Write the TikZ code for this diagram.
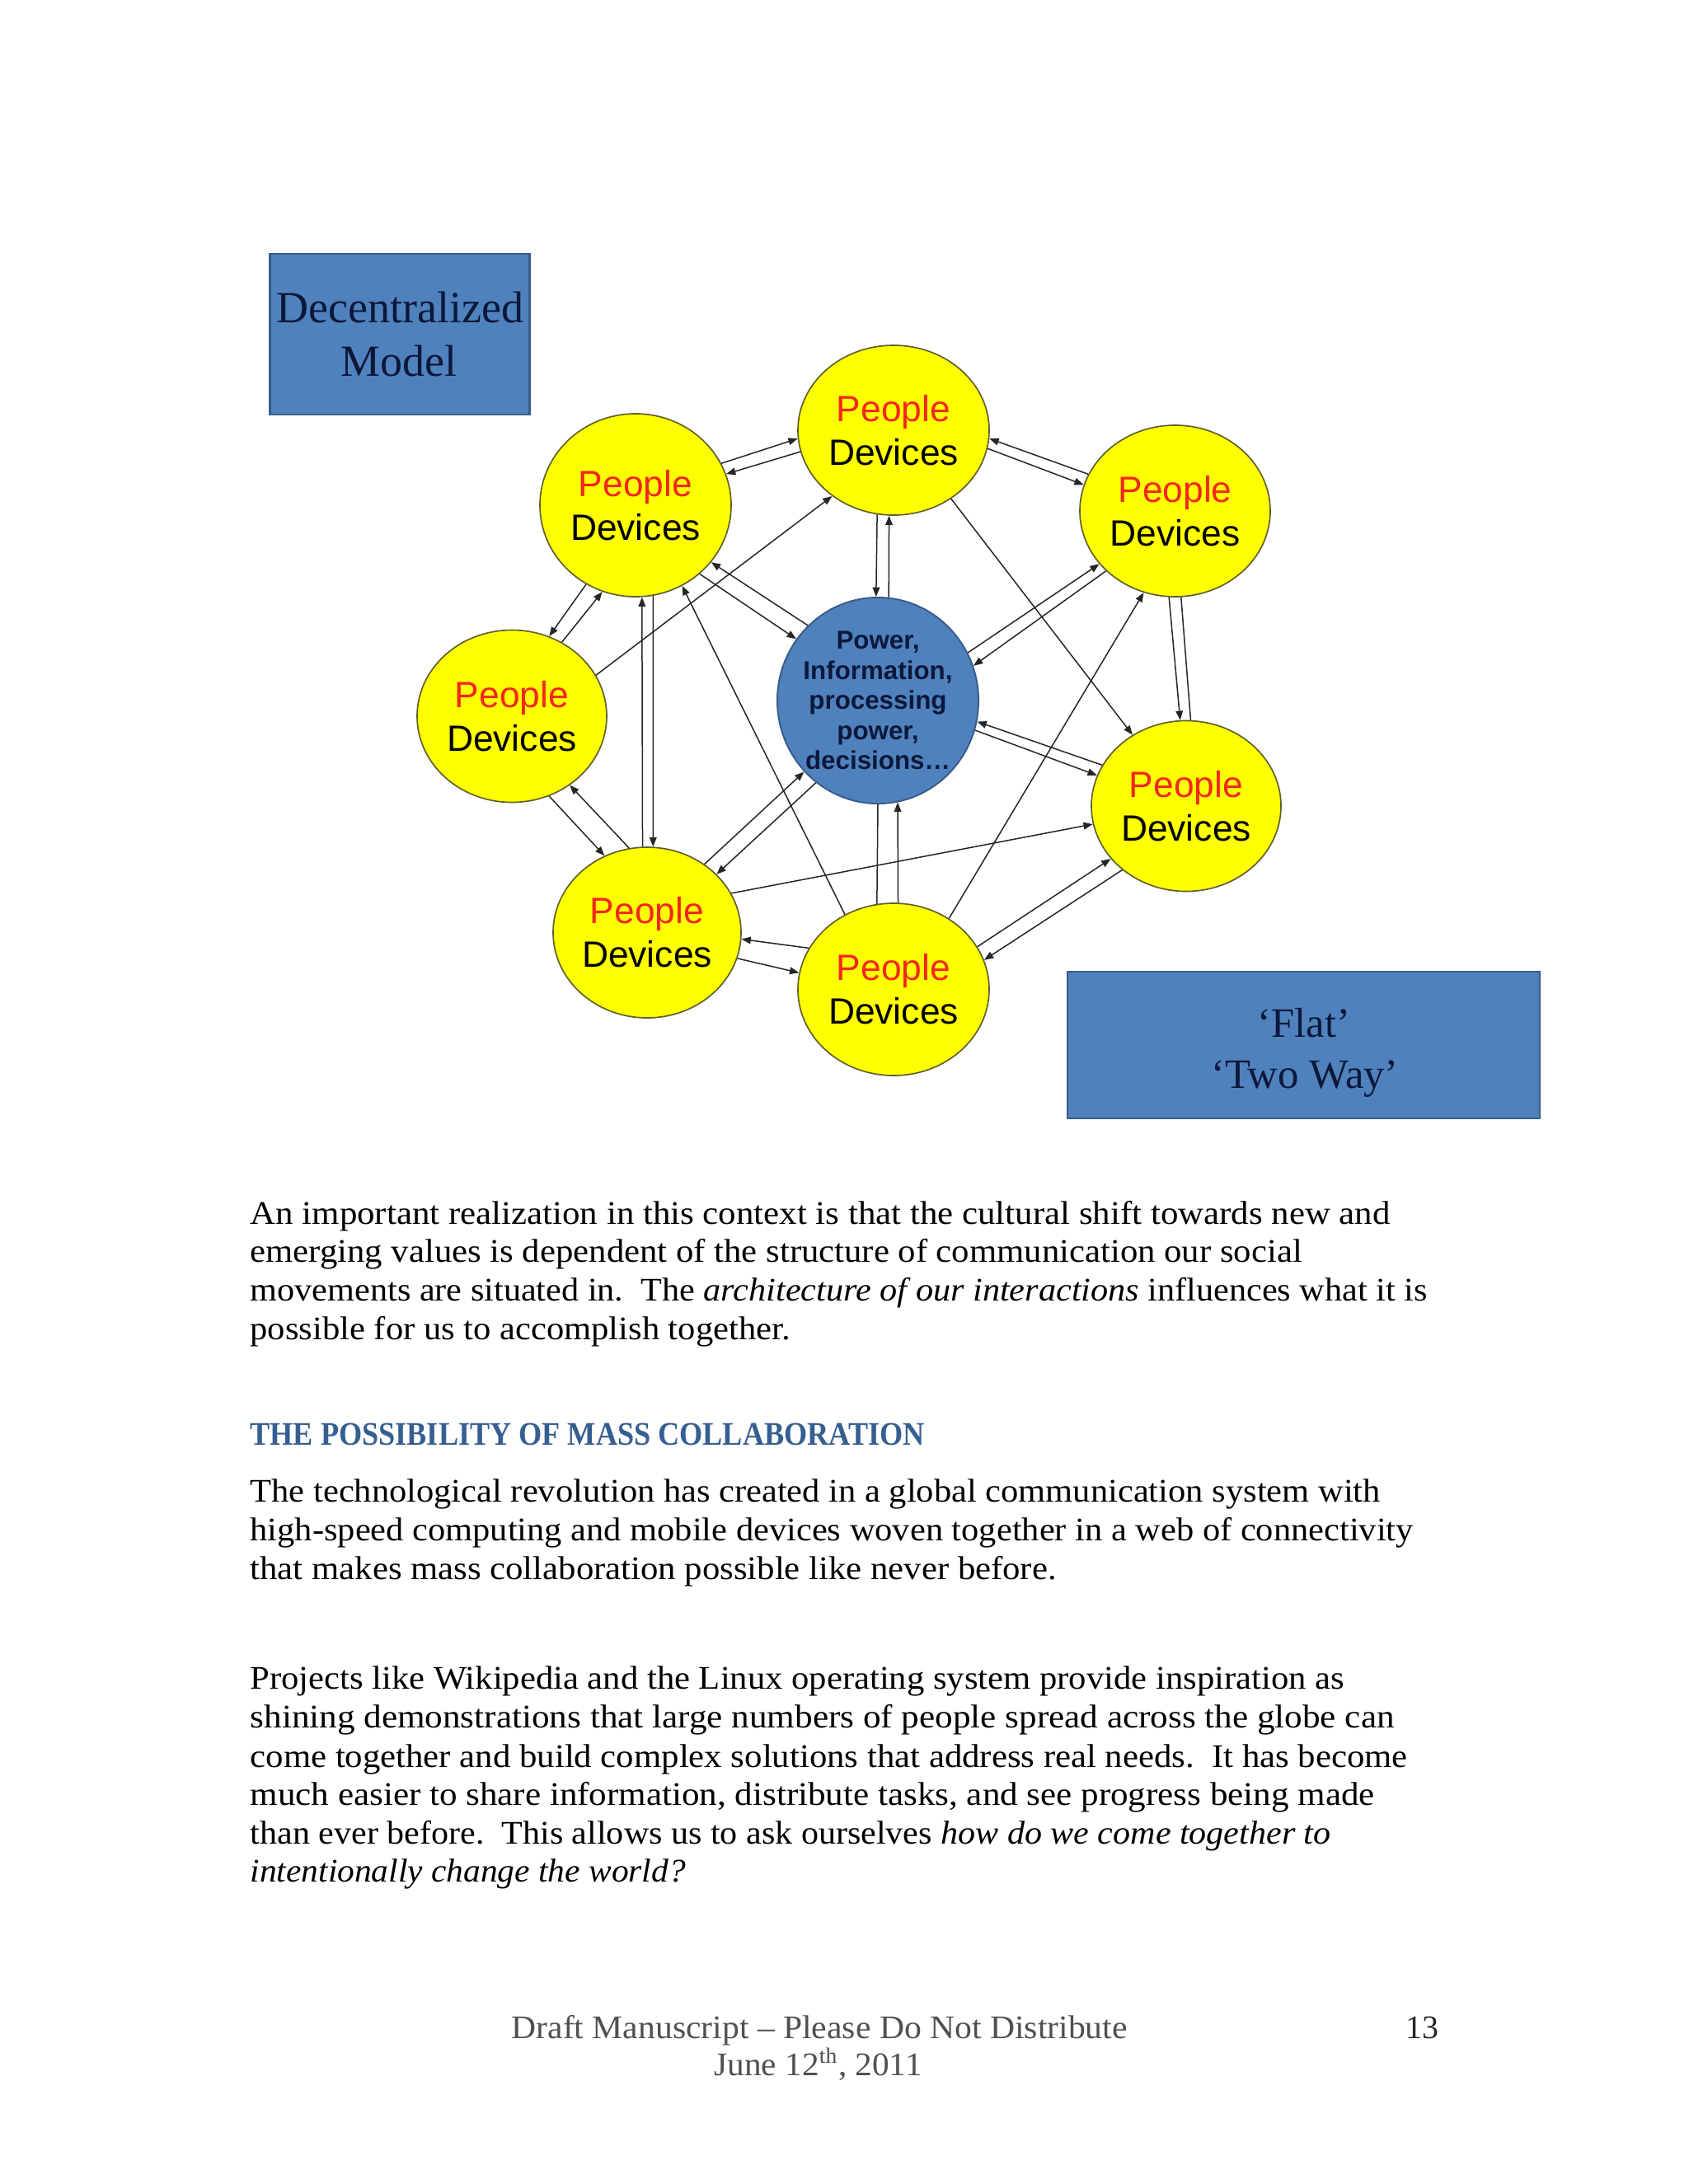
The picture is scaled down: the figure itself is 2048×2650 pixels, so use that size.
\documentclass[tikz,border=0pt]{standalone}
\usepackage{fontspec}
\setmainfont{Liberation Serif}
\newfontfamily\arialf{Liberation Sans}
\usepackage{graphicx}
\usetikzlibrary{shapes.geometric,arrows.meta,calc}
\newdimen\upx \upx=0.29995pt
\definecolor{pyellow}{HTML}{FFFF00}
\definecolor{pyline}{RGB}{95,95,45}
\definecolor{pblue}{HTML}{4F81BD}
\definecolor{pbline}{HTML}{385D8A}
\definecolor{pred}{RGB}{240,40,30}
\definecolor{navy}{RGB}{12,24,58}
\definecolor{headblue}{RGB}{54,95,145}
\definecolor{footgray}{RGB}{80,80,80}
\newcommand\txline[5][]{\node[txt,#1] (#2) at (303,#3) {\resizebox{#4\upx}{\height}{#5}};}
\begin{document}
\begin{tikzpicture}[x=0.29995pt,y=-0.29995pt,
  pd/.style={ellipse, draw=pyline, fill=pyellow, line width=0.5pt, inner sep=0pt, align=center,
    font=\arialf\fontsize{13.3}{15.9}\selectfont},
  hub/.style={ellipse, draw=pbline, fill=pblue, line width=0.6pt, inner sep=0pt,
    minimum width=73.2pt, minimum height=75pt},
  hubtext/.style={align=center, inner sep=0pt, text=navy,
    font=\arialf\bfseries\fontsize{9.4}{10.95}\selectfont},
  box/.style={rectangle, draw=pbline, fill=pblue, line width=0.7pt, inner sep=0pt},
  boxtext/.style={anchor=base, inner sep=0pt, text=navy},
  conn/.style={line width=0.45pt, draw=black!85},
  tip/.style={-{Triangle[length=3.4pt,width=2.6pt]}},
  txt/.style={anchor=base west, inner sep=0pt, font=\fontsize{12}{14}\selectfont},
]
\fill[white] (0,0) rectangle (2048,2650);
\useasboundingbox (0,0) rectangle (2048,2650);

% boxes
\node[box, minimum width=94.5pt, minimum height=58.6pt] (dm) at (485.1,405.5) {};
\node[boxtext, font=\fontsize{16.2}{19.4}\selectfont] (dm1) at (485.7,391.6) {Decentralized};
\node[boxtext, font=\fontsize{16.2}{19.4}\selectfont] (dm2) at (483.7,456) {Model};
\node[box, minimum width=171.9pt, minimum height=53.4pt] (fl) at (1581.5,1268) {};
\node[boxtext, font=\fontsize{15.2}{18}\selectfont] (fl1) at (1582,1258) {‘Flat’};
\node[boxtext, font=\fontsize{15.2}{18}\selectfont] (fl2) at (1583,1320) {‘Two Way’};

% circles
\node[pd, minimum width=69.6pt, minimum height=61.8pt] (T)  at (1084,522)    {\textcolor{pred}{People}\\Devices};
\node[pd, minimum width=69.6pt, minimum height=66.6pt] (UL) at (771,613)     {\textcolor{pred}{People}\\Devices};
\node[pd, minimum width=69.3pt, minimum height=62.4pt] (UR) at (1425.5,620)  {\textcolor{pred}{People}\\Devices};
\node[pd, minimum width=69pt,   minimum height=62.7pt] (L)  at (621,869)     {\textcolor{pred}{People}\\Devices};
\node[pd, minimum width=68.4pt, minimum height=62.1pt] (LL) at (785,1131.5)  {\textcolor{pred}{People}\\Devices};
\node[pd, minimum width=69.6pt, minimum height=62.7pt] (B)  at (1084,1200.5) {\textcolor{pred}{People}\\Devices};
\node[pd, minimum width=69pt,   minimum height=62.1pt] (R)  at (1439,978)    {\textcolor{pred}{People}\\Devices};
\node[hub] (C) at (1065,850) {};
\node[hubtext] (Ct) at (C.center) {Power,\\Information,\\processing\\power,\\decisions…};

% connectors
% T-UL
\draw[conn,tip] (UL.26) -- (T.185);
\draw[conn,tip] (T.193) -- (UL.19);
% T-UR
\draw[conn,tip] (UR.157) -- (T.-5);
\draw[conn,tip] (T.-11) -- (UR.164);
% T-C
\draw[conn,tip] (T.259) -- (C.91);
\draw[conn,tip] (C.84) -- (T.267);
% T-R
\draw[conn,tip] (T.-50) -- (R.127);
% UR-C
\draw[conn,tip] (C.28) -- (UR.215);
\draw[conn,tip] (UR.221) -- (C.20);
% UR-R
\draw[conn,tip] (UR.266) -- (R.94);
\draw[conn] (UR.274) -- (R.87);
% UR-B
\draw[conn,tip] (B.52) -- (UR.249);
% C-R
\draw[conn,tip] (R.154) -- (C.-12);
\draw[conn,tip] (C.-17) -- (R.161);
% LL-R
\draw[conn,tip] (LL.25) -- (R.191);
% B-R
\draw[conn,tip] (B.27) -- (R.215);
\draw[conn,tip] (R.225) -- (B.18);
% B-C
\draw[conn] (B.101) -- (C.270);
\draw[conn,tip] (B.87) -- (C.-79);
% B-UL
\draw[conn,tip] (B.123) -- (UL.-60);
% B-LL
\draw[conn,tip] (B.154) -- (LL.-4);
\draw[conn,tip] (LL.-16) -- (B.170);
% LL-C
\draw[conn,tip] (LL.50) -- (C.224);
\draw[conn,tip] (C.233) -- (LL.40);
% LL-UL
\draw[conn,tip] (LL.93) -- (UL.-86);
\draw[conn,tip] (UL.-79) -- (LL.86);
% L-LL
\draw[conn,tip] (L.-65) -- (LL.119);
\draw[conn,tip] (LL.102) -- (L.-50);
% L-UL
\draw[conn,tip] (UL.238) -- (L.65);
\draw[conn,tip] (L.56) -- (UL.249);
% L-T
\draw[conn,tip] (L.26) -- (T.227);
% UL-C
\draw[conn,tip] (C.133) -- (UL.-37);
\draw[conn,tip] (UL.-47) -- (C.143);

% body text
\txline{p1a}{1485}{1383}{An important realization in this context is that the cultural shift towards new and}
\txline{p1b}{1531.7}{1276}{emerging values is dependent of the structure of communication our social}
\txline{p1c}{1578.3}{1428}{movements are situated in.\ \ The \textit{architecture of our interactions} influences what it is}
\txline{p1d}{1625}{655}{possible for us to accomplish together.}
\txline[text=headblue,font=\bfseries\fontsize{12}{14}\selectfont]{hd}{1753.3}{818}{THE POSSIBILITY OF MASS COLLABORATION}
\txline{p2a}{1822}{1371}{The technological revolution has created in a global communication system with}
\txline{p2b}{1869.5}{1411}{high-speed computing and mobile devices woven together in a web of connectivity}
\txline{p2c}{1916.7}{978}{that makes mass collaboration possible like never before.}
\txline{p3a}{2049}{1327}{Projects like Wikipedia and the Linux operating system provide inspiration as}
\txline{p3b}{2096.8}{1388}{shining demonstrations that large numbers of people spread across the globe can}
\txline{p3c}{2144}{1404}{come together and build complex solutions that address real needs.\ \ It has become}
\txline{p3d}{2190.5}{1364}{much easier to share information, distribute tasks, and see progress being made}
\txline{p3e}{2237}{1311}{than ever before.\ \ This allows us to ask ourselves \textit{how do we come together to}}
\txline{p3f}{2283.4}{528}{\textit{intentionally change the world?}}

% footer
\node[txt, text=footgray] (ft1) at (620,2473) {\resizebox{747\upx}{\height}{Draft Manuscript – Please Do Not Distribute}};
\node[txt, text=footgray] (ft2) at (866,2518) {\resizebox{252\upx}{\height}{June 12\textsuperscript{th}, 2011}};
\node[txt, text=black!85] (pg) at (1705,2473) {13};
\end{tikzpicture}
\end{document}
